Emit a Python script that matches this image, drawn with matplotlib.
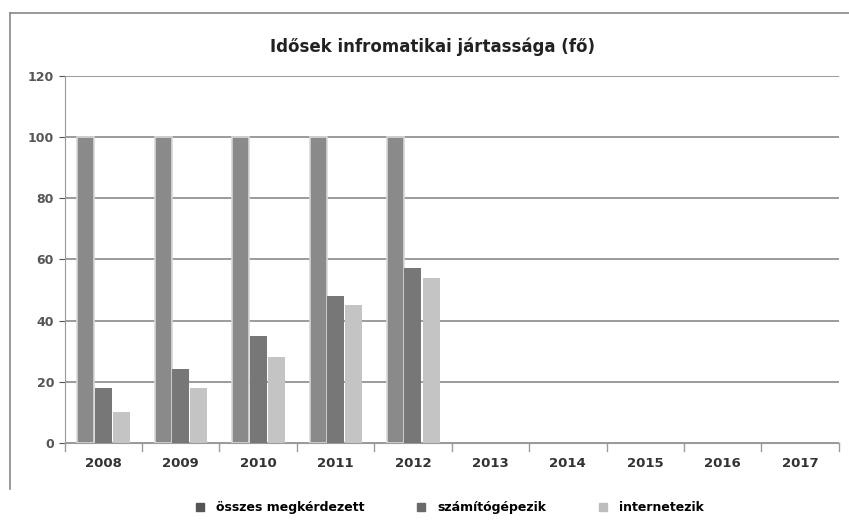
import matplotlib.pyplot as plt
import numpy as np
from matplotlib.lines import Line2D

# adatok
evek = ['2008', '2009', '2010', '2011', '2012', '2013', '2014', '2015', '2016', '2017']
osszes = [100, 100, 100, 100, 100, 0, 0, 0, 0, 0]
szamitogepezik = [18, 24, 35, 48, 57, 0, 0, 0, 0, 0]
internetezik = [10, 18, 28, 45, 54, 0, 0, 0, 0, 0]
sorozatok = ['összes megkérdezett', 'számítógépezik', 'internetezik']

plt.rcParams['font.family'] = ['DejaVu Sans']

fig = plt.figure(figsize=(8.49, 5.26), dpi=100)
ax = fig.add_axes([0.076, 0.158, 0.912, 0.698])

x = np.arange(len(evek))
w = 0.22
ax.bar(x - 0.225, osszes, w, color='#8a8a8a', edgecolor='#d8d8d8',
       linewidth=[1.2 if v else 0 for v in osszes], label=sorozatok[0], zorder=3)
ax.bar(x, szamitogepezik, w, color='#777777', linewidth=0,
       label=sorozatok[1], zorder=4)
ax.bar(x + 0.235, internetezik, w, color='#c4c4c4', linewidth=0,
       label=sorozatok[2], zorder=3)

ax.set_xlim(-0.5, len(evek) - 0.5)
ax.set_ylim(0, 120)
ax.set_yticks(range(0, 121, 20))
ax.set_xticks(x)
ax.set_xticklabels(evek, fontsize=9.5, fontweight='bold', color='#333333')
ax.tick_params(axis='y', labelsize=9, colors='#555555', length=4)
for t in ax.get_yticklabels():
    t.set_fontweight('bold')
ax.tick_params(axis='x', length=0, pad=10)

ax.grid(axis='y', color='#8a8a8a', linewidth=1.2, zorder=0)
for s in ['top', 'right']:
    ax.spines[s].set_visible(False)
ax.spines['left'].set_color('#9a9a9a')
ax.spines['bottom'].set_color('#9a9a9a')

# kis elválasztó jelek az x tengelyen
for k in range(len(evek) + 1):
    ax.plot([k - 0.5, k - 0.5], [0, -2.5], color='#9a9a9a', lw=1, clip_on=False)

fig.suptitle('Idősek infromatikai jártassága (fő)', x=0.51, y=0.928,
             fontsize=12, fontweight='bold', color='#222222')

handles = [Line2D([], [], marker='s', ls='', markersize=6, color=c)
           for c in ['#555555', '#6a6a6a', '#bdbdbd']]
fig.legend(handles, sorozatok, loc='center', bbox_to_anchor=(0.525, 0.035),
           ncol=3, frameon=False, prop={'weight': 'bold', 'size': 9},
           handletextpad=0.3, columnspacing=3.5)

# keret
fig.add_artist(Line2D([0.012, 0.012], [0.07, 0.975], color='#888888', lw=1.2))
fig.add_artist(Line2D([0.012, 1.0], [0.975, 0.975], color='#888888', lw=1.2))

plt.savefig('out.png', dpi=100)
